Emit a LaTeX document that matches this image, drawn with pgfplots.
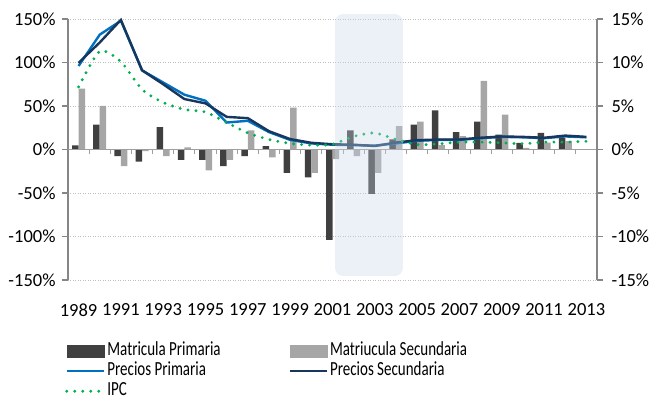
\documentclass[border=0pt]{standalone}
\usepackage{pgfplots}
\usepackage{pgfplotstable}
\pgfplotsset{compat=1.18}
\usepackage{fontspec}
\setmainfont{Carlito}
\newfontfamily\legfont[FakeStretch=0.75]{Carlito}
\definecolor{cPrim}{RGB}{64,64,64}
\definecolor{cSec}{RGB}{166,166,166}
\definecolor{cPP}{RGB}{0,112,192}
\definecolor{cPS}{RGB}{23,55,94}
\definecolor{cIPC}{RGB}{0,176,80}
\definecolor{cAxis}{RGB}{134,134,134}
\definecolor{cGrid}{RGB}{190,190,190}
\definecolor{cShade}{RGB}{200,213,232}

\pgfplotstableread{
x prim sec
0 4.6 70
1 28.7 50
2 -7.7 -19
3 -14 -2
4 25.7 -7.7
5 -12 2.3
6 -12 -24
7 -19 -12
8 -7.7 22
9 3.8 -9
10 -27 48
11 -32 -27
12 -104 -11
13 22 -7.7
14 -51 -27
15 11.5 27
16 28.7 32
17 45 5
18 20 15.5
19 32 79
20 17 40
21 7.5 2
22 19 8
23 13 9.5
}\bars

\pgfplotstableread{
x pp ps ipc
0 9.6 9.96 7.2
1 13.2 12.3 11.3
2 14.8 14.9 10.1
3 9.1 9.1 6.9
4 7.7 7.5 5.4
5 6.3 5.8 4.6
6 5.6 5.3 4.3
7 3.1 3.75 3.1
8 3.3 3.6 1.9
9 2.0 2.1 1.15
10 1.1 1.2 0.7
11 0.7 0.77 0.5
12 0.55 0.6 0.6
13 0.5 0.55 1.5
14 0.45 0.4 1.9
15 0.7 0.8 1.15
16 1.0 1.07 0.57
17 1.1 1.15 0.65
18 1.1 1.15 0.85
19 1.3 1.35 0.85
20 1.45 1.5 0.77
21 1.4 1.45 0.65
22 1.3 1.35 0.85
23 1.5 1.6 0.85
24 1.4 1.45 0.95
}\lines

\begin{document}
\begin{tikzpicture}
\useasboundingbox (-68bp,-120bp) rectangle (585bp,280bp);
\begin{axis}[
  at={(0,0)}, anchor=south west,
  scale only axis, width=529bp, height=261bp,
  xmin=-0.5, xmax=24.5, ymin=-150, ymax=150,
  axis x line*=bottom, axis y line*=left,
  x axis line style={draw=none},
  y axis line style={draw=cAxis, line width=1.5bp},
  xtick={0,2,4,6,8,10,12,14,16,18,20,22,24},
  xticklabels={1989,1991,1993,1995,1997,1999,2001,2003,2005,2007,2009,2011,2013},
  x tick style={draw=none},
  y tick style={draw=cAxis, line width=1.5bp},
  tick align=outside, major tick length=6bp,
  ytick={-150,-100,-50,0,50,100,150},
  yticklabel={\pgfmathprintnumber{\tick}\%},
  ymajorgrids,
  major grid style={draw=cGrid, line width=0.8bp, dash pattern=on 1bp off 1.5bp},
  tick label style={font=\fontsize{18.5bp}{22bp}\selectfont},
  /pgf/number format/assume math mode=true,
  xticklabel style={yshift=-14bp},
  yticklabel style={xshift=-3bp},
  clip=false,
]
\addplot[ybar, bar width=6.5bp, bar shift=-3.25bp, fill=cPrim, draw=none] table[x=x, y=prim] {\bars};
\addplot[ybar, bar width=6.5bp, bar shift=3.25bp, fill=cSec, draw=none] table[x=x, y=sec] {\bars};
\draw[cAxis!80, line width=1.3bp] (axis cs:-0.5,0) -- (axis cs:24.5,0);
\pgfplotsinvokeforeach{0.5,1.5,...,23.5}{
  \draw[cAxis!80, line width=1bp] (axis cs:#1,0) -- ([yshift=-5bp]axis cs:#1,0);
}
\end{axis}
\begin{axis}[
  at={(0,0)}, anchor=south west,
  scale only axis, width=529bp, height=261bp,
  xmin=-0.5, xmax=24.5, ymin=-15, ymax=15,
  axis x line=none, axis y line*=right,
  y axis line style={draw=cAxis, line width=1.5bp},
  y tick style={draw=cAxis, line width=1.5bp},
  tick align=outside, major tick length=6bp,
  ytick={-15,-10,-5,0,5,10,15},
  yticklabel={\pgfmathprintnumber{\tick}\%},
  tick label style={font=\fontsize{18.5bp}{22bp}\selectfont},
  /pgf/number format/assume math mode=true,
  yticklabel style={xshift=5bp},
  clip=false,
  legend columns=2,
  legend cell align=left,
  legend image code/.code={\draw[#1] (0bp,0bp) -- (37bp,0bp);},
  legend style={at={(0,0)}, anchor=north west, xshift=-3bp, yshift=-61bp,
    draw=none, fill=none, inner sep=0pt, row sep=0pt,
    font=\legfont\fontsize{20bp}{22bp}\selectfont,
    nodes={inner xsep=2bp, inner ysep=1bp, text height=13.5bp, text depth=4.5bp},
    /tikz/every even column/.append style={column sep=66bp}},
]
\addlegendimage{legend image code/.code={\fill[cPrim] (0bp,-6bp) rectangle (37bp,6bp);}}
\addlegendentry{Matricula Primaria}
\addlegendimage{legend image code/.code={\fill[cSec] (0bp,-6bp) rectangle (37bp,6bp);}}
\addlegendentry{Matriucula Secundaria}
\addplot[cPP, line width=2.4bp] table[x=x, y=pp] {\lines};
\addlegendentry{Precios Primaria}
\addplot[cPS, line width=2.4bp] table[x=x, y=ps] {\lines};
\addlegendentry{Precios Secundaria}
\addplot[cIPC, line width=3.2bp, line cap=round, dash pattern=on 0bp off 8bp, smooth, tension=0.4] table[x=x, y=ipc] {\lines};
\addlegendentry{IPC}
\fill[cShade, fill opacity=0.35, rounded corners=8bp] (axis cs:12.12,15.57) rectangle (axis cs:15.33,-14.54);
\end{axis}
\end{tikzpicture}
\end{document}
